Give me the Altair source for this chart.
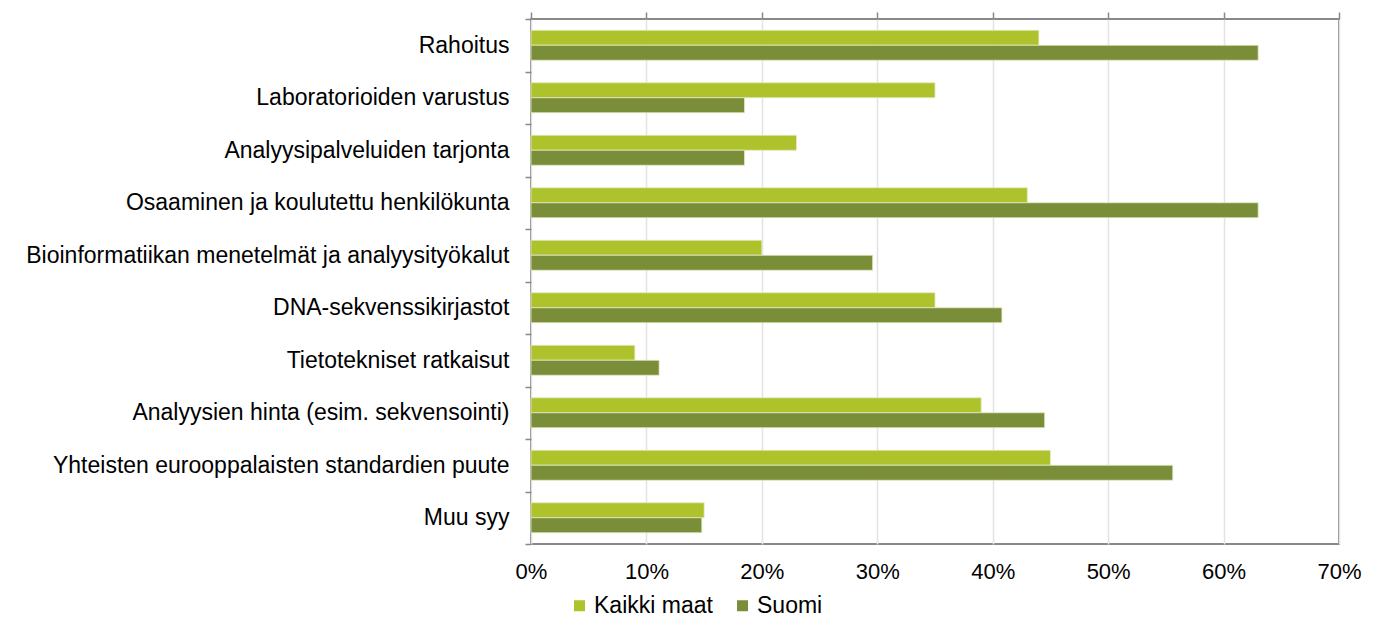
import altair as alt
import pandas as pd

categories = [
    "Rahoitus",
    "Laboratorioiden varustus",
    "Analyysipalveluiden tarjonta",
    "Osaaminen ja koulutettu henkilökunta",
    "Bioinformatiikan menetelmät ja analyysityökalut",
    "DNA-sekvenssikirjastot",
    "Tietotekniset ratkaisut",
    "Analyysien hinta (esim. sekvensointi)",
    "Yhteisten eurooppalaisten standardien puute",
    "Muu syy",
]
series = ["Kaikki maat", "Suomi"]
kaikki_maat = [44.0, 35.0, 23.0, 43.0, 20.0, 35.0, 9.0, 39.0, 45.0, 15.0]
suomi = [63.0, 18.5, 18.5, 63.0, 29.6, 40.8, 11.1, 44.5, 55.6, 14.8]
colors = ["#ADC22B", "#7A8E3A"]

rows = []
for c, a, b in zip(categories, kaikki_maat, suomi):
    rows.append({"Syy": c, "Sarja": series[0], "Arvo": a / 100})
    rows.append({"Syy": c, "Sarja": series[1], "Arvo": b / 100})
df = pd.DataFrame(rows)

FONT = "Liberation Sans"

xscale = alt.Scale(domain=[0, 0.7], nice=False)

bars = alt.Chart(df).mark_bar(stroke="#e4ebc4", strokeWidth=0.8).encode(
    x=alt.X(
        "Arvo:Q",
        scale=xscale,
        axis=alt.Axis(
            orient="bottom",
            format=".0%",
            values=[0, 0.1, 0.2, 0.3, 0.4, 0.5, 0.6, 0.7],
            ticks=False,
            domain=False,
            grid=True,
            gridColor="#E3E3E3",
            gridWidth=1.5,
            labelFontSize=22,
            labelFont=FONT,
            labelColor="#000000",
            labelPadding=17,
            labelFlush=False,
            title=None,
        ),
    ),
    y=alt.Y(
        "Syy:N",
        sort=categories,
        scale=alt.Scale(paddingInner=0, paddingOuter=0),
        axis=alt.Axis(
            tickBand="extent",
            tickSize=6,
            tickColor="#888888",
            tickWidth=1.5,
            domain=False,
            grid=False,
            labelFontSize=23,
            labelFont=FONT,
            labelColor="#000000",
            labelPadding=16,
            labelLimit=700,
            title=None,
        ),
    ),
    yOffset=alt.YOffset(
        "Sarja:N",
        sort=series,
        scale=alt.Scale(paddingInner=0, paddingOuter=0.75),
    ),
    color=alt.Color(
        "Sarja:N",
        sort=series,
        scale=alt.Scale(domain=series, range=colors),
        legend=alt.Legend(
            title=None,
            orient="none",
            legendX=37,
            legendY=575,
            direction="horizontal",
            symbolType="square",
            symbolSize=121,
            symbolStrokeWidth=0,
            labelFontSize=23,
            labelFont=FONT,
            labelColor="#000000",
            columnPadding=18,
            labelOffset=3,
        ),
    ),
)

top_ticks = alt.Chart(pd.DataFrame({"Arvo": [0.0]})).mark_point(opacity=0).encode(
    x=alt.X(
        "Arvo:Q",
        scale=xscale,
        axis=alt.Axis(
            orient="top",
            values=[0, 0.1, 0.2, 0.3, 0.4, 0.5, 0.6, 0.7],
            labels=False,
            ticks=True,
            tickSize=7,
            tickColor="#888888",
            tickWidth=1.5,
            domain=False,
            grid=False,
            title=None,
        ),
    ),
)

chart = alt.layer(bars, top_ticks).properties(
    width=808,
    height=525,
    autosize=alt.AutoSizeParams(type="none"),
    padding={"left": 523, "top": 11, "right": 30, "bottom": 78},
    background="#ffffff",
).configure_view(
    stroke="#888888",
    strokeWidth=2,
)

chart.save("out.html", embed_options={"renderer": "svg", "actions": False})
